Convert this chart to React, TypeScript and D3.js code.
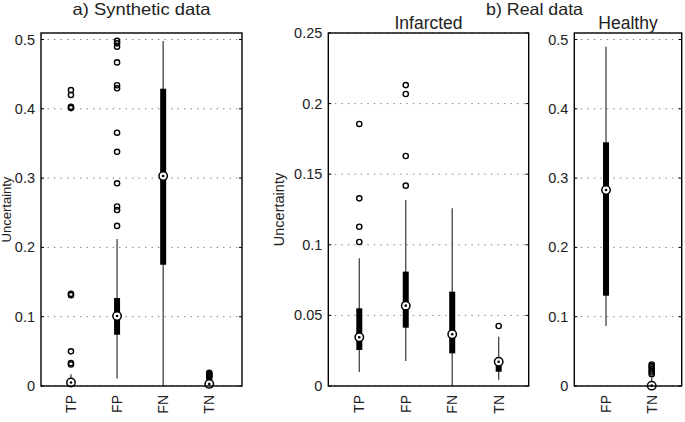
import React from "react";
import * as d3 from "d3";

const W = 685;
const H = 422;
const TOP = 33;
const BOTTOM = 386;
const FONT = "'Liberation Sans', Arial, Helvetica, sans-serif";

// a) synthetic data
const synthCats = ["TP", "FP", "FN", "TN"];
const synthLow = [0, 0.011, 0, 0.002];
const synthQ1 = [0.002, 0.074, 0.175, 0.006];
const synthMed = [0.005, 0.101, 0.303, 0.003];
const synthQ3 = [0.009, 0.127, 0.429, 0.012];
const synthHigh = [0.017, 0.212, 0.498, 0.012];
const synthOutliers = [
  [0.427, 0.42, 0.403, 0.401, 0.133, 0.131, 0.05, 0.033, 0.031],
  [0.231, 0.254, 0.259, 0.2925, 0.338, 0.3655, 0.4296, 0.434, 0.467, 0.4896, 0.4945, 0.498],
  [],
  [0.013, 0.0145, 0.016, 0.0175, 0.019],
];
const synthTicks = [0, 0.1, 0.2, 0.3, 0.4, 0.5];

// b) real data, infarcted
const infCats = ["TP", "FP", "FN", "TN"];
const infLow = [0.01, 0.0177, 0, 0.0045];
const infQ1 = [0.0255, 0.0413, 0.0231, 0.0101];
const infMed = [0.0345, 0.0569, 0.0366, 0.0172];
const infQ3 = [0.055, 0.081, 0.0668, 0.019];
const infHigh = [0.0904, 0.1317, 0.1258, 0.0349];
const infOutliers = [
  [0.102, 0.1128, 0.1329, 0.1856],
  [0.1419, 0.1629, 0.2068, 0.2131],
  [],
  [0.0425],
];
const infTicks = [0, 0.05, 0.1, 0.15, 0.2, 0.25];

// b) real data, healthy
const healthyCats = ["FP", "TN"];
const healthyLow = [0.0866, 0];
const healthyQ1 = [0.1303, 0];
const healthyMed = [0.2828, 0.0005];
const healthyQ3 = [0.3517, 0.003];
const healthyHigh = [0.4896, 0.012];
const healthyOutliers = [[], [0.017, 0.0195, 0.022, 0.0245, 0.027, 0.029, 0.031]];
const healthyTicks = [0, 0.1, 0.2, 0.3, 0.4, 0.5];

const fmt = d3.format("~g");

type PanelProps = {
  x0: number;
  x1: number;
  xDomain: [number, number];
  yMax: number;
  yTicks: number[];
  cats: string[];
  low: number[];
  q1: number[];
  med: number[];
  q3: number[];
  high: number[];
  outliers: number[][];
  subtitle?: string;
  yLabelX?: number;
  yLabelSize?: number;
};

const BoxPanel = (p: PanelProps) => {
  const x = d3.scaleLinear().domain(p.xDomain).range([p.x0, p.x1]);
  const y = d3.scaleLinear().domain([0, p.yMax]).range([BOTTOM, TOP]);

  return (
    <g>
      {/* dotted grid + inside ticks */}
      {p.yTicks.map((t) => (
        <g key={t}>
          <line x1={p.x0} x2={p.x1} y1={y(t)} y2={y(t)} stroke="#888" strokeWidth={1} strokeDasharray="1.5,5" />
          <line x1={p.x0} x2={p.x0 + 3} y1={y(t)} y2={y(t)} stroke="#000" strokeWidth={1} />
          <line x1={p.x1 - 3} x2={p.x1} y1={y(t)} y2={y(t)} stroke="#000" strokeWidth={1} />
          <text
            x={p.x0 - 6}
            y={y(t)}
            dy="0.35em"
            textAnchor="end"
            fontSize={14.5}
            fontFamily={FONT}
            fill="#222"
          >
            {fmt(t)}
          </text>
        </g>
      ))}

      {p.cats.map((c, i) => {
        const cx = x(i + 1);
        return (
          <g key={c}>
            <line x1={cx} x2={cx} y1={y(p.low[i])} y2={y(p.high[i])} stroke="#444" strokeWidth={1.3} />
            <rect x={cx - 3} width={6} y={y(p.q3[i])} height={y(p.q1[i]) - y(p.q3[i])} fill="#000" />
            {p.outliers[i].map((v, j) => (
              <circle key={j} cx={cx} cy={y(v)} r={2.6} fill="none" stroke="#000" strokeWidth={1.4} />
            ))}
            <circle cx={cx} cy={y(p.med[i])} r={4.2} fill="#fff" stroke="#000" strokeWidth={1.5} />
            <circle cx={cx} cy={y(p.med[i])} r={1.3} fill="#000" />
            <text
              transform={`translate(${cx + 5},${BOTTOM + 9}) rotate(-90)`}
              textAnchor="end"
              fontSize={14}
              fontFamily={FONT}
              fill="#222"
            >
              {c}
            </text>
          </g>
        );
      })}

      <rect x={p.x0} y={TOP} width={p.x1 - p.x0} height={BOTTOM - TOP} fill="none" stroke="#000" strokeWidth={1.4} />

      {p.subtitle && (
        <text x={(p.x0 + p.x1) / 2} y={29} textAnchor="middle" fontSize={17.5} fontFamily={FONT} fill="#222">
          {p.subtitle}
        </text>
      )}
      {p.yLabelX !== undefined && (
        <text
          transform={`translate(${p.yLabelX},${(TOP + BOTTOM) / 2}) rotate(-90)`}
          textAnchor="middle"
          fontSize={p.yLabelSize ?? 14.5}
          fontFamily={FONT}
          fill="#222"
        >
          Uncertainty
        </text>
      )}
    </g>
  );
};

export default function App() {
  return (
    <svg
      width={W}
      height={H}
      style={{ position: "absolute", left: 0, top: 0, background: "#fff" }}
    >
      <BoxPanel
        x0={41}
        x1={242}
        xDomain={[0.35, 4.71]}
        yMax={0.5094}
        yTicks={synthTicks}
        cats={synthCats}
        low={synthLow}
        q1={synthQ1}
        med={synthMed}
        q3={synthQ3}
        high={synthHigh}
        outliers={synthOutliers}
        yLabelX={10.5}
        yLabelSize={13}
      />
      <BoxPanel
        x0={328.3}
        x1={528.7}
        xDomain={[0.333, 4.646]}
        yMax={0.25}
        yTicks={infTicks}
        cats={infCats}
        low={infLow}
        q1={infQ1}
        med={infMed}
        q3={infQ3}
        high={infHigh}
        outliers={infOutliers}
        subtitle="Infarcted"
        yLabelX={284}
      />
      <BoxPanel
        x0={574.3}
        x1={681.7}
        xDomain={[0.306, 2.656]}
        yMax={0.5094}
        yTicks={healthyTicks}
        cats={healthyCats}
        low={healthyLow}
        q1={healthyQ1}
        med={healthyMed}
        q3={healthyQ3}
        high={healthyHigh}
        outliers={healthyOutliers}
        subtitle="Healthy"
      />
      <text
        x={141.5}
        y={14.5}
        textAnchor="middle"
        fontSize={16.5}
        textLength={138}
        lengthAdjust="spacingAndGlyphs"
        fontFamily={FONT}
        fill="#222"
      >
        a) Synthetic data
      </text>
      <text
        x={534.5}
        y={14.5}
        textAnchor="middle"
        fontSize={16.5}
        textLength={97}
        lengthAdjust="spacingAndGlyphs"
        fontFamily={FONT}
        fill="#222"
      >
        b) Real data
      </text>
    </svg>
  );
}
